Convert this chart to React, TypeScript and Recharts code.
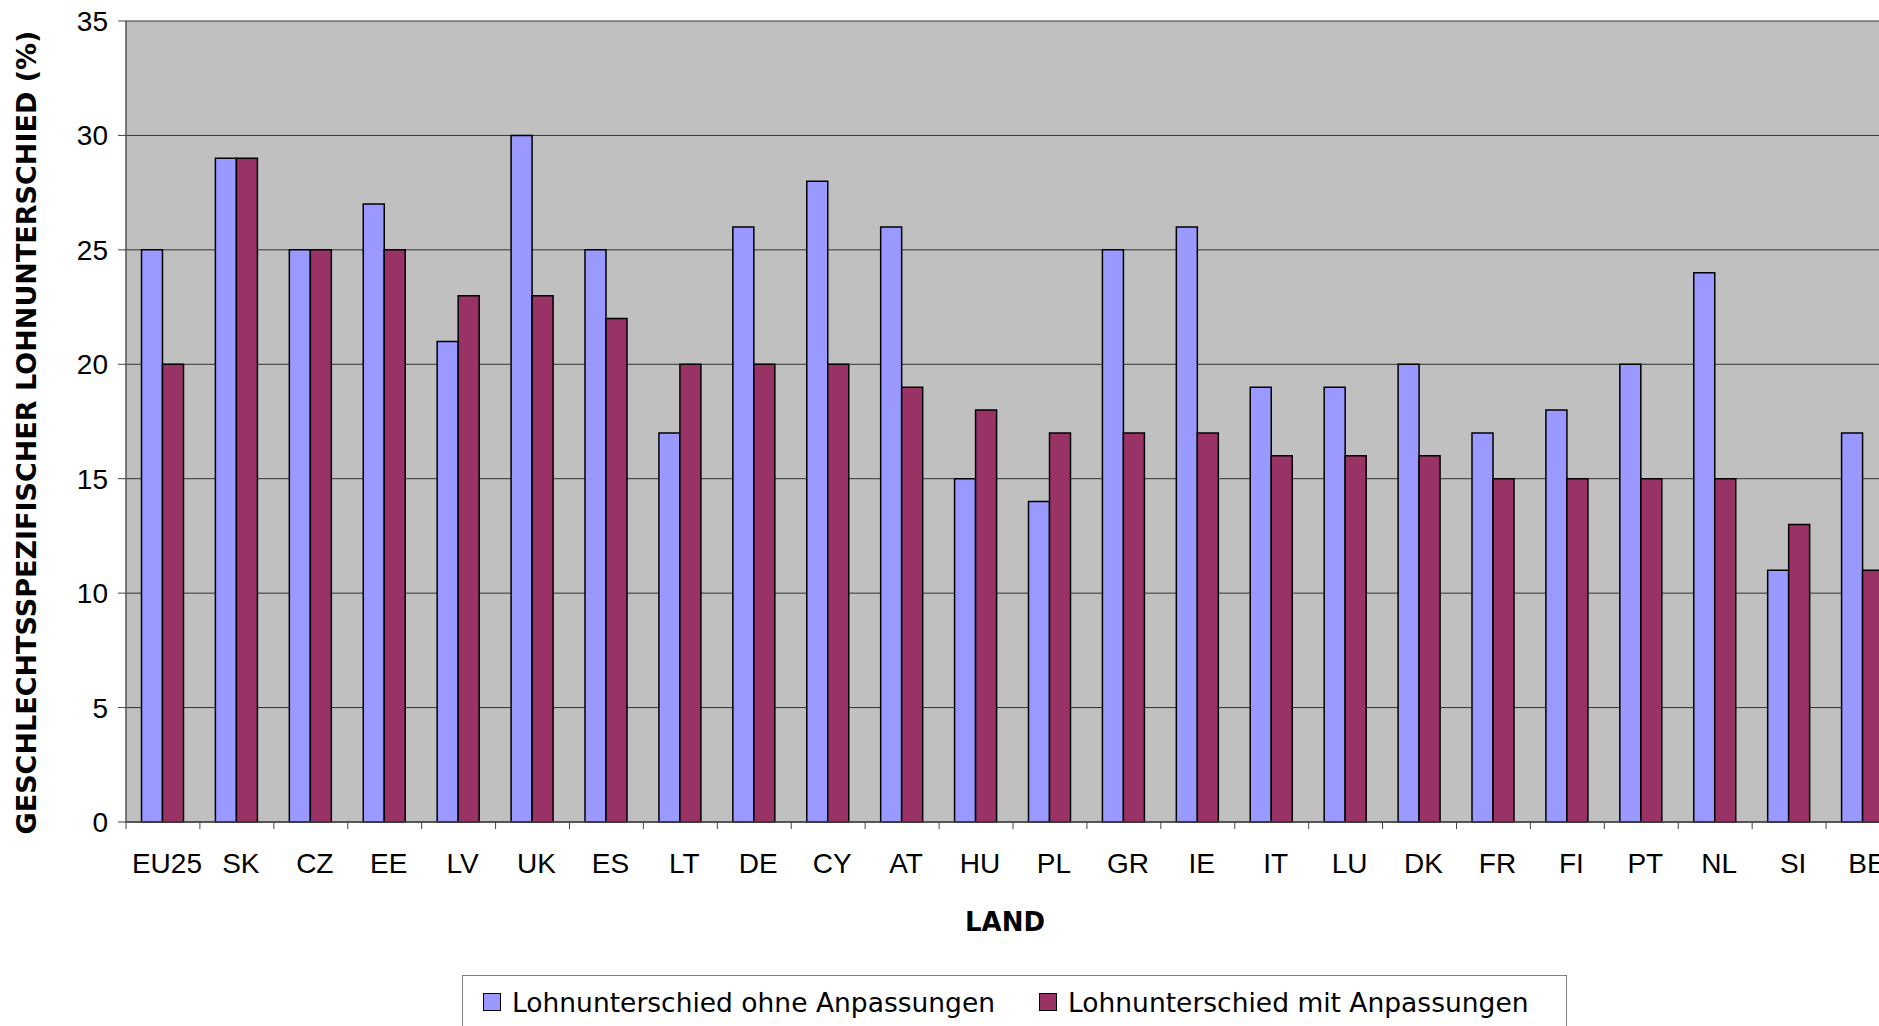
import React from 'react';
import { BarChart, Bar, XAxis, YAxis, CartesianGrid, Legend, Label } from 'recharts';

const countries = ['EU25', 'SK', 'CZ', 'EE', 'LV', 'UK', 'ES', 'LT', 'DE', 'CY', 'AT', 'HU', 'PL', 'GR', 'IE', 'IT', 'LU', 'DK', 'FR', 'FI', 'PT', 'NL', 'SI', 'BE'];
const ohneAnpassungen = [25, 29, 25, 27, 21, 30, 25, 17, 26, 28, 26, 15, 14, 25, 26, 19, 19, 20, 17, 18, 20, 24, 11, 17];
const mitAnpassungen = [20, 29, 25, 25, 23, 23, 22, 20, 20, 20, 19, 18, 17, 17, 17, 16, 16, 16, 15, 15, 15, 15, 13, 11];
const yTicks = [0, 5, 10, 15, 20, 25, 30, 35];

const SERIES_OHNE = 'Lohnunterschied ohne Anpassungen';
const SERIES_MIT = 'Lohnunterschied mit Anpassungen';
const SERIES_ORDER = [SERIES_OHNE, SERIES_MIT];

const data = countries.map((land, i) => ({
  land,
  ohne: ohneAnpassungen[i],
  mit: mitAnpassungen[i],
}));

const CHART_W = 1920;
const CHART_H = 1026;
const MARGIN = { top: 21, right: 20, bottom: 0, left: 0 };
const Y_AXIS_W = 126;
const X_AXIS_H = 204;
const BAND = (CHART_W - MARGIN.left - MARGIN.right - Y_AXIS_W) / countries.length;

const XTick = (props: any) => {
  const { x, y, payload } = props;
  return (
    <g>
      <line x1={x - BAND / 2} x2={x - BAND / 2} y1={y} y2={y + 7} stroke="#444" strokeWidth={1} />
      <text
        x={x + 4}
        y={y + 51}
        textAnchor="middle"
        fontFamily="'Liberation Sans', Arial, sans-serif"
        fontSize={28}
        fill="#000"
      >
        {payload.value}
      </text>
    </g>
  );
};

const LegendContent = (props: any) => {
  const items = [...(props.payload || [])].sort(
    (a: any, b: any) => SERIES_ORDER.indexOf(a.value) - SERIES_ORDER.indexOf(b.value)
  );
  return (
    <div
      style={{
        boxSizing: 'border-box',
        width: 1105,
        height: 53,
        border: '1px solid #808080',
        borderBottom: 'none',
        display: 'flex',
        alignItems: 'center',
        paddingLeft: 20,
        fontFamily: "'DejaVu Sans', Verdana, sans-serif",
        fontSize: 26.5,
        color: '#000',
        background: '#fff',
      }}
    >
      {items.map((entry: any, i: number) => (
        <div key={i} style={{ display: 'flex', alignItems: 'center', marginRight: 44 }}>
          <span
            style={{
              display: 'inline-block',
              boxSizing: 'border-box',
              width: 18,
              height: 18,
              background: entry.color,
              border: '1.5px solid #000',
              marginRight: 11,
            }}
          />
          <span style={{ whiteSpace: 'nowrap' }}>{entry.value}</span>
        </div>
      ))}
    </div>
  );
};

export default function App() {
  return (
    <div
      style={{
        position: 'fixed',
        left: 0,
        top: 0,
        width: 1879,
        height: 1026,
        overflow: 'hidden',
        background: '#fff',
      }}
    >
      <BarChart
        width={CHART_W}
        height={CHART_H}
        data={data}
        margin={MARGIN}
        barCategoryGap={15.5}
        barGap={0}
      >
        <CartesianGrid vertical={false} stroke="#333" fill="#C0C0C0" fillOpacity={1} />
        <XAxis
          dataKey="land"
          height={X_AXIS_H}
          interval={0}
          tickLine={false}
          tickSize={0}
          tickMargin={0}
          tick={<XTick />}
          axisLine={{ stroke: '#444', strokeWidth: 1.5 }}
        >
          <Label
            content={(p: any) => {
              const vb = p.viewBox || { x: 126, y: 822, width: 1774 };
              return (
                <text
                  x={vb.x + vb.width / 2 - 8}
                  y={vb.y + 100}
                  textAnchor="middle"
                  dominantBaseline="central"
                  fontFamily="'DejaVu Sans', Verdana, sans-serif"
                  fontWeight="bold"
                  fontSize={26}
                  fill="#000"
                >
                  LAND
                </text>
              );
            }}
          />
        </XAxis>
        <YAxis
          width={Y_AXIS_W}
          domain={[0, 35]}
          ticks={yTicks}
          interval={0}
          tickSize={8}
          tickMargin={10}
          tickLine={{ stroke: '#444' }}
          axisLine={{ stroke: '#555', strokeWidth: 1.5 }}
          tick={{ fontFamily: "'Liberation Sans', Arial, sans-serif", fontSize: 28, fill: '#000' }}
        >
          <Label
            content={(p: any) => {
              const vb = p.viewBox || { x: 0, y: 21, width: 126, height: 801 };
              const cx = vb.x + 26;
              const cy = vb.y + vb.height / 2 + 11;
              return (
                <text
                  x={cx}
                  y={cy}
                  transform={`rotate(-90, ${cx}, ${cy})`}
                  textAnchor="middle"
                  dominantBaseline="central"
                  fontFamily="'DejaVu Sans', Verdana, sans-serif"
                  fontWeight="bold"
                  fontSize={27}
                  fill="#000"
                >
                  GESCHLECHTSSPEZIFISCHER LOHNUNTERSCHIED (%)
                </text>
              );
            }}
          />
        </YAxis>
        <Legend
          content={<LegendContent />}
          wrapperStyle={{ position: 'absolute', left: 462, top: 975, width: 1105, height: 0 }}
        />
        <Bar
          dataKey="ohne"
          name={SERIES_OHNE}
          fill="#9999FF"
          stroke="#000"
          strokeWidth={1.5}
          isAnimationActive={false}
        />
        <Bar
          dataKey="mit"
          name={SERIES_MIT}
          fill="#993366"
          stroke="#000"
          strokeWidth={1.5}
          isAnimationActive={false}
        />
      </BarChart>
    </div>
  );
}
